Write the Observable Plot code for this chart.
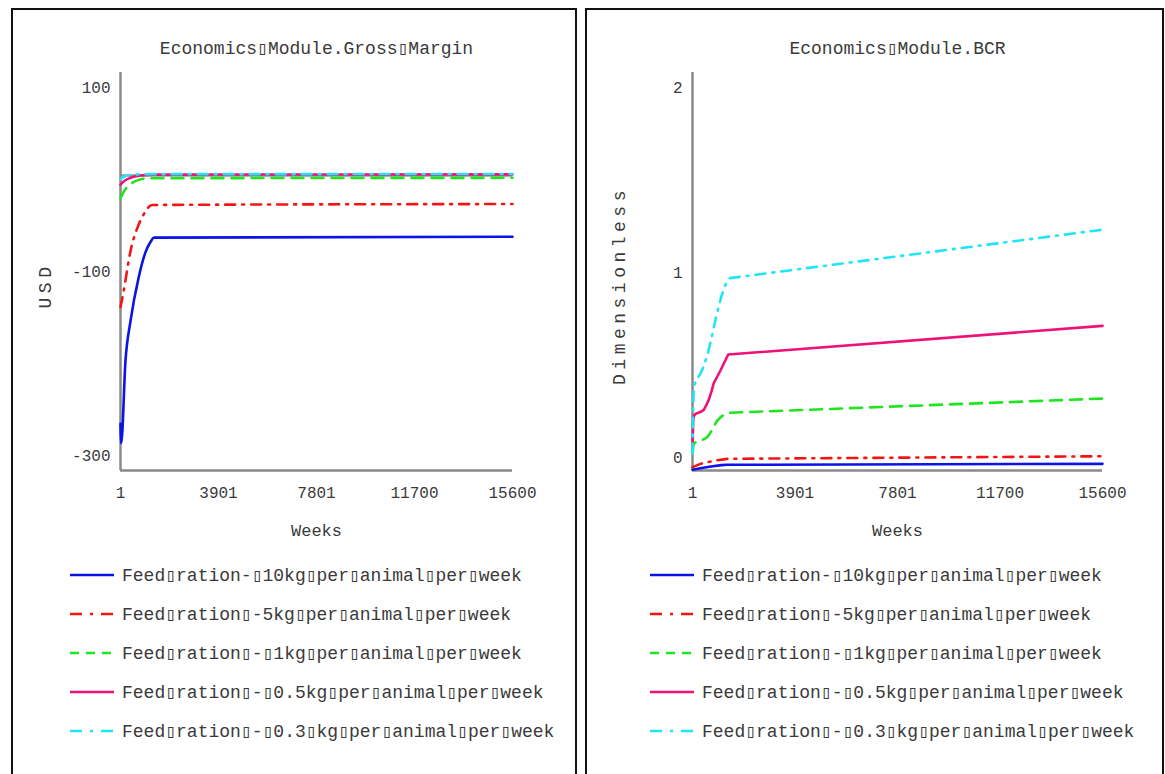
<!DOCTYPE html>
<html>
<head>
<meta charset="utf-8">
<script src="https://cdn.jsdelivr.net/npm/d3@7"></script>
<script src="https://cdn.jsdelivr.net/npm/@observablehq/plot@0.6"></script>
<style>
  html, body { margin: 0; padding: 0; background: #fff; }
  #page { position: relative; width: 1165px; height: 774px; overflow: hidden;
          font-family: "Liberation Mono", "DejaVu Sans Mono", monospace; }
  .panel { position: absolute; top: 8px; height: 800px; border: 2px solid #111; box-sizing: border-box; }
  .chart { position: absolute; top: 20px; }
  .legend { position: absolute; top: 555px; font-size: 18px; color: #3a3a3a; }
  .legend .row { height: 39px; display: flex; align-items: center; white-space: nowrap; }
  .legend svg { margin-right: 8px; flex: none; }
  .ylab text { letter-spacing: 4.5px; }
</style>
</head>
<body>
<div id="page">
  <div class="panel" style="left:11px;width:566px"></div>
  <div class="panel" style="left:585px;width:579px"></div>
  <div class="chart" id="gm" style="left:12px"></div>
  <div class="chart" id="bcr" style="left:588px"></div>
  <div class="legend" id="gm-legend" style="left:70px"></div>
  <div class="legend" id="bcr-legend" style="left:650px"></div>
</div>
<script>
// Simulation horizon and axis ticks
const weekDomain = [1, 15600];
const weekTicks = [1, 3901, 7801, 11700, 15600];
const marginTicks = [100, -100, -300];
const bcrTicks = [2, 1, 0];

// Scenario names (feed ration levels)
const scenarios = [
  "Feed▯ration-▯10kg▯per▯animal▯per▯week",
  "Feed▯ration▯-5kg▯per▯animal▯per▯week",
  "Feed▯ration▯-▯1kg▯per▯animal▯per▯week",
  "Feed▯ration▯-▯0.5kg▯per▯animal▯per▯week",
  "Feed▯ration▯-▯0.3▯kg▯per▯animal▯per▯week"
];

// Economics Module.Gross Margin (USD) — [week, value]
const gm10kg  = [[1, -270], [30, -291], [200, -201], [400, -158], [730, -110], [1000, -83], [1200, -72], [1330, -67.5], [15600, -66.5]];
const gm5kg   = [[1, -143], [130, -125], [400, -82], [700, -55], [930, -42], [1260, -32], [15600, -31]];
const gm1kg   = [[1, -25], [120, -18], [265, -12.5], [500, -7.5], [700, -5], [1100, -3], [15600, -2.5]];
const gm05kg  = [[1, -10], [150, -6], [400, -2.5], [800, 0], [1300, 1], [15600, 1.2]];
const gm03kg  = [[1, -3.6], [265, 0], [700, 1.2], [1300, 1.5], [15600, 1.6]];

// Economics Module.BCR (dimensionless) — [week, value]
const bcr10kg = [[1, -0.088], [300, -0.08], [700, -0.07], [1100, -0.063], [1320, -0.061], [15600, -0.056]];
const bcr5kg  = [[1, -0.074], [305, -0.056], [800, -0.04], [1320, -0.029], [15600, -0.015]];
const bcr1kg  = [[1, 0], [40, 0.05], [150, 0.065], [305, 0.07], [450, 0.078], [560, 0.088], [650, 0.105], [750, 0.13], [850, 0.155], [940, 0.178], [1100, 0.2], [1250, 0.213], [1380, 0.22], [15600, 0.297]];
const bcr05kg = [[1, 0.03], [30, 0.19], [60, 0.205], [120, 0.215], [250, 0.222], [350, 0.228], [430, 0.236], [520, 0.26], [620, 0.29], [720, 0.335], [810, 0.38], [940, 0.415], [1070, 0.45], [1220, 0.495], [1360, 0.535], [15600, 0.69]];
const bcr03kg = [[1, 0], [20, 0.2], [50, 0.36], [150, 0.4], [300, 0.43], [450, 0.48], [600, 0.55], [750, 0.64], [900, 0.74], [1100, 0.85], [1250, 0.91], [1330, 0.935], [1420, 0.948], [15600, 1.21]];

// Line styles per scenario
const palette = ["#0a14e6", "#f51414", "#1ee61e", "#ee1177", "#1ee6f5"];
const dashes = [null, "10,7,2,7", "12,8", null, "10,7,2,7"];
const legendDashes = [null, "12,8,3,8", "9,7", null, "12,8,3,8"];

const axisGray = "#8a8a8a";
const textGray = "#3a3a3a";

function drawPanel({series, curve, yDomain, yTicks, title, yLabel, yLabelDx, width, marginLeft, marginRight, zeroRule}) {
  const marks = [];
  if (zeroRule) marks.push(Plot.ruleY([0], {stroke: "#999", strokeWidth: 2.5}));
  marks.push(Plot.ruleX([weekDomain[0]], {stroke: axisGray, strokeWidth: 2.5}));
  marks.push(Plot.ruleY([yDomain[0]], {stroke: axisGray, strokeWidth: 2.5}));
  series.forEach((pts, i) => {
    marks.push(Plot.line(pts, {
      x: d => d[0], y: d => d[1],
      stroke: palette[i], strokeWidth: 2.6,
      strokeDasharray: dashes[i] ?? undefined,
      curve
    }));
  });
  marks.push(Plot.axisY({ticks: yTicks, tickSize: 0, tickPadding: 10, dy: 4, label: null,
                         tickFormat: d => String(d), fontSize: 16, fill: textGray}));
  marks.push(Plot.axisX({ticks: weekTicks, tickSize: 0, tickPadding: 16, label: null,
                         tickFormat: d => String(d), fontSize: 16, fill: textGray}));
  marks.push(Plot.text([title], {frameAnchor: "top", dy: -24, lineAnchor: "middle",
                                 fontSize: 18, fill: textGray}));
  marks.push(Plot.text(["Weeks"], {frameAnchor: "bottom", dy: 60, lineAnchor: "middle",
                                   fontSize: 17, fill: textGray}));
  marks.push(Plot.text([yLabel], {frameAnchor: "left", dx: yLabelDx, dy: 14, rotate: -90,
                                  textAnchor: "middle", lineAnchor: "middle",
                                  fontSize: 18, fill: textGray, className: "ylab"}));
  return Plot.plot({
    width, height: 530,
    marginLeft, marginRight, marginTop: 52, marginBottom: 80,
    style: {fontFamily: '"Liberation Mono", "DejaVu Sans Mono", monospace', background: "transparent", overflow: "visible"},
    x: {domain: weekDomain},
    y: {domain: yDomain},
    marks
  });
}

function drawLegend(el) {
  scenarios.forEach((name, i) => {
    const row = document.createElement("div");
    row.className = "row";
    const dash = legendDashes[i] ? ` stroke-dasharray="${legendDashes[i]}"` : "";
    row.innerHTML = `<svg width="44" height="6"><line x1="0" y1="3" x2="44" y2="3" stroke="${palette[i]}" stroke-width="2.6"${dash}/></svg><span>${name}</span>`;
    el.appendChild(row);
  });
}

document.getElementById("gm").appendChild(drawPanel({
  series: [gm10kg, gm5kg, gm1kg, gm05kg, gm03kg], curve: "monotone-x",
  yDomain: [-320.7, 112], yTicks: marginTicks,
  title: "Economics▯Module.Gross▯Margin", yLabel: "USD", yLabelDx: -75,
  width: 560, marginLeft: 108, marginRight: 60, zeroRule: true
}));

document.getElementById("bcr").appendChild(drawPanel({
  series: [bcr10kg, bcr5kg, bcr1kg, bcr05kg, bcr03kg], curve: "linear",
  yDomain: [-0.092, 2.06], yTicks: bcrTicks,
  title: "Economics▯Module.BCR", yLabel: "Dimensionless", yLabelDx: -73,
  width: 570, marginLeft: 104, marginRight: 56, zeroRule: false
}));

drawLegend(document.getElementById("gm-legend"));
drawLegend(document.getElementById("bcr-legend"));
</script>
</body>
</html>
